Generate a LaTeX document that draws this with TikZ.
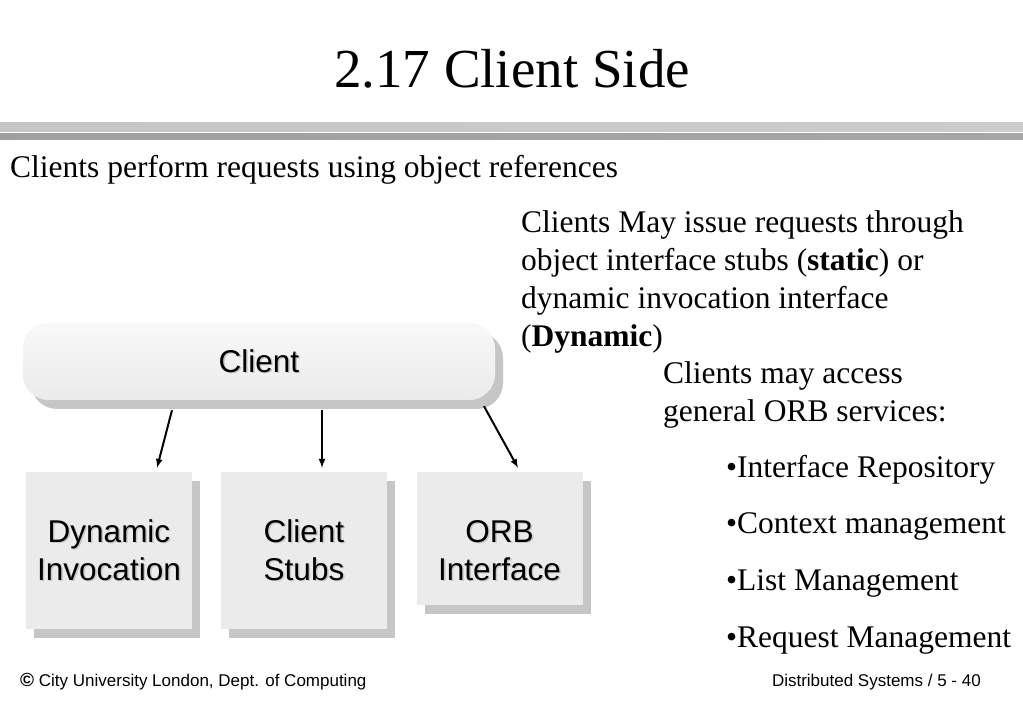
\documentclass[tikz,border=0pt]{standalone}
\usepackage{fontspec}
\setmainfont{Liberation Serif}
\setsansfont{Liberation Sans}
\usetikzlibrary{arrows, shadows}

\definecolor{panel}{RGB}{235,235,235}
\definecolor{panelshadow}{RGB}{198,198,198}
\newcommand\embossed[1]{\leavevmode\rlap{\hspace{1.5pt}\raisebox{-1.5pt}{\textcolor{gray!45}{#1}}}#1}

\begin{document}
\begin{tikzpicture}[x=1pt, y=-1pt,
		box/.style={fill=panel, minimum width=166pt, inner sep=0pt, align=center,
			font=\sffamily\fontsize{31.5}{38}\selectfont,
			drop shadow={shadow xshift=8pt, shadow yshift=-9pt, fill=panelshadow, opacity=1}},
		body/.style={anchor=base west, inner sep=0pt, font=\fontsize{31.5}{38}\selectfont},
		foot/.style={inner sep=0pt, font=\sffamily\fontsize{17}{20}\selectfont},
		call/.style={-latex, line width=2pt}]
	\useasboundingbox (0,0) rectangle (1023,708);

	% title and rules
	\node[anchor=base, inner sep=0pt, font=\fontsize{55}{60}\selectfont] (title) at (512,88) {2.17 Client Side};
	\shade[left color=gray!45, middle color=gray!8, right color=gray!40] (0,123) rectangle (1023,132);
	\shade[left color=gray!75, middle color=gray!22, right color=gray!70] (0,134) rectangle (1023,140);

	\node[body] (intro) at (10,178) {Clients perform requests using object references};

	% client and its interfaces
	\node[box, minimum width=472pt, minimum height=77pt, rounded corners=26pt,
		top color=gray!5, bottom color=gray!16] (client) at (259,361.5) {\embossed{Client}};
	\node[box, minimum height=157pt] (dynamic) at (109,550.5) {\embossed{Dynamic}\\\embossed{Invocation}};
	\node[box, minimum height=157pt] (stubs) at (304,550.5) {\embossed{Client}\\\embossed{Stubs}};
	\node[box, minimum height=133pt] (orb) at (499.5,538.5) {};
	\node[inner sep=0pt, align=center, font=\sffamily\fontsize{31.5}{38}\selectfont] (orbtext) at (499.5,551) {\embossed{ORB}\\\embossed{Interface}};

	\draw[call] ([xshift=-87pt, yshift=-10pt]client.south) -- ([xshift=48pt, yshift=4pt]dynamic.north);
	\draw[call] ([xshift=63pt, yshift=-10pt]client.south) -- ([xshift=18pt, yshift=4pt]stubs.north);
	\draw[call] ([xshift=225pt, yshift=-6pt]client.south) -- ([xshift=18.5pt, yshift=4pt]orb.north);

	% notes on the right
	\foreach \line [count=\i from 0] in {Clients May issue requests through, object interface stubs (\textbf{static}) or, dynamic invocation interface, (\textbf{Dynamic})}
		\node[body] (issue\i) at (521,233+38*\i) {\line};
	\node[body] (access0) at (663,384) {Clients may access};
	\node[body] (access1) at (663,422) {general ORB services:};
	\foreach \service [count=\i from 0] in {Interface Repository, Context management, List Management, Request Management}
		\node[body] (service\i) at (726,477+56.67*\i) {•\service};

	% footer
	\node[foot, anchor=base west] (copyright) at (20,686) {{\fontsize{19}{20}\selectfont\textbf{©}} City University London, Dept. of Computing};
	\node[foot, anchor=base east] (page) at (981,686) {Distributed Systems / 5 - 40};
\end{tikzpicture}
\end{document}
